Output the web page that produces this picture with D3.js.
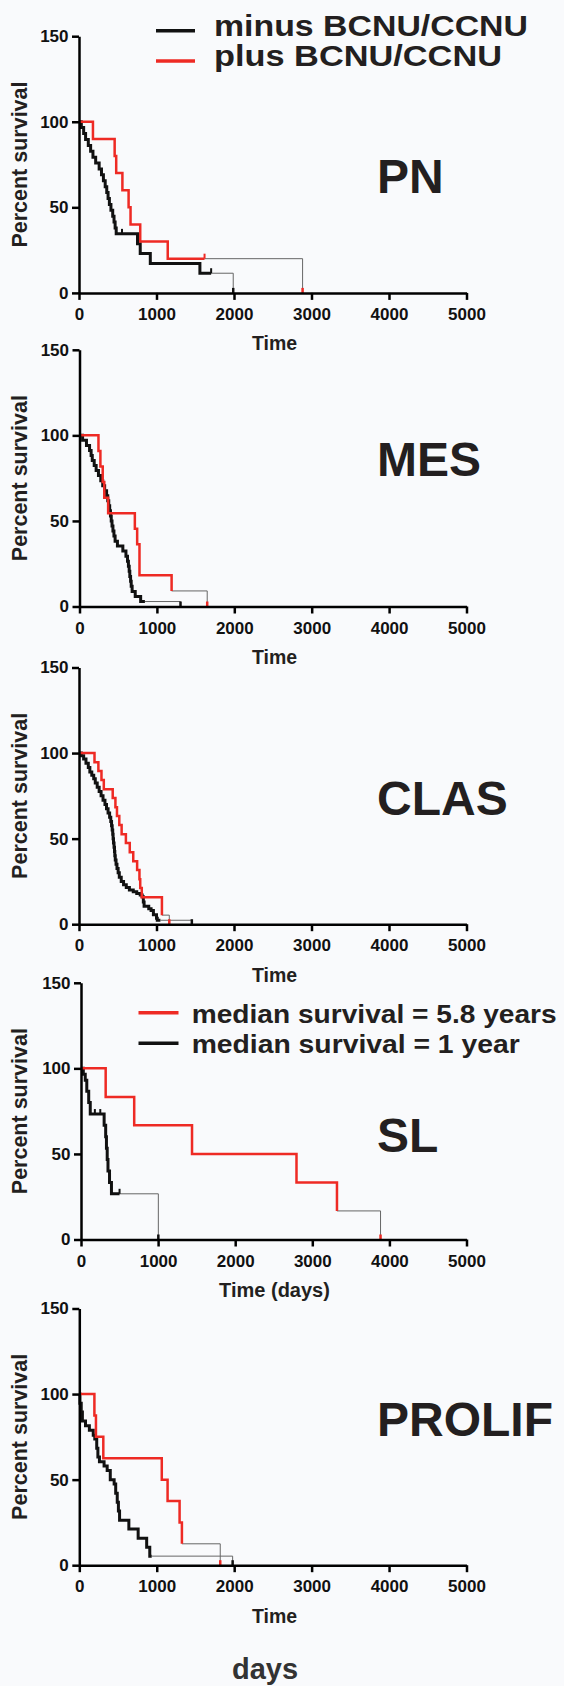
<!DOCTYPE html>
<html>
<head>
<meta charset="utf-8">
<script src="https://cdn.jsdelivr.net/npm/d3@7"></script>
<style>
  html, body { margin: 0; padding: 0; background: #f9fafc; }
  svg { display: block; }
</style>
</head>
<body>
<svg id="chart" width="564" height="1686"></svg>
<script>
// ---------------- data ----------------
const panelNames = ["PN", "MES", "CLAS", "SL", "PROLIF"];
const xTicks = [0, 1000, 2000, 3000, 4000, 5000];
const yTicks = [0, 50, 100, 150];
const xLabels = ["Time", "Time", "Time", "Time (days)", "Time"];
const legend1Labels = ["minus BCNU/CCNU", "plus BCNU/CCNU"];
const legend2Labels = ["median survival = 5.8 years", "median survival = 1 year"];
const footer = "days";

// Kaplan-Meier steps [time (days), percent survival]
const pnMinus = [[0,100],[30,96.6],[60,93.1],[85,89.7],[120,86.2],[150,82.8],[180,79.3],[215,75.9],[260,72.4],[290,69],[315,65.5],[338,62.1],[358,58.6],[375,55.2],[392,51.7],[412,48.3],[435,44.8],[452,41.4],[466,37.9],[480,34.5],[755,28.7],[790,23],[920,17.2],[1560,11.5]];
const pnMinusCensor = [[555,34.5],[1705,11.5]];
const pnMinusEnds = [1705, 1990];
const pnPlus = [[0,100],[180,90],[460,80],[480,70],[560,60],[640,50],[665,40],[790,30],[1145,20]];
const pnPlusCensor = [[1620,20]];
const pnPlusEnds = [1620, 2885];

const mesMinus = [[0,100],[40,97.1],[90,94.1],[130,91.2],[150,88.2],[165,85.3],[190,82.4],[215,79.4],[245,76.5],[275,73.5],[300,70.6],[325,67.6],[350,64.7],[365,61.8],[378,58.8],[390,55.9],[400,52.9],[410,50],[420,47.1],[432,44.1],[445,41.2],[460,38.2],[490,35.3],[560,32.4],[600,29.4],[620,26.5],[632,23.5],[642,20.6],[650,17.6],[660,14.7],[668,11.8],[680,8.8],[720,5.9],[790,2.9]];
const mesMinusCensor = [];
const mesMinusEnds = [845, 1305];
const mesPlus = [[0,100],[245,90.9],[270,81.8],[300,72.7],[320,63.6],[370,54.5],[715,45.5],[745,36.4],[775,18.2],[1190,9.1]];
const mesPlusCensor = [];
const mesPlusEnds = [1190, 1650];

const clasMinus = [[0,100],[30,98.5],[60,96.5],[90,94],[120,91.5],[140,89],[165,87],[190,85],[210,82.5],[235,80],[260,77.5],[285,75],[310,72.5],[335,70],[355,67.5],[375,65],[395,62.5],[410,60],[420,57.5],[428,55],[435,52.5],[440,50],[445,47.5],[452,45],[458,42.5],[462,40],[468,37.5],[478,35],[490,32.5],[505,30],[520,27.5],[545,25],[575,23],[610,21.5],[650,20],[700,19],[745,18],[790,17],[815,16],[830,13],[840,10.5],[900,9],[930,8],[960,5.5],[1000,3.5],[1010,2.3]];
const clasMinusCensor = [];
const clasMinusEnds = [1050, 1456];
const clasPlus = [[0,100],[200,94.7],[250,89.5],[290,84.2],[320,78.9],[435,73.7],[470,68.4],[490,63.2],[520,57.9],[550,52.6],[605,47.4],[655,42.1],[700,36.8],[750,31.6],[780,26.3],[790,21.1],[810,15.8],[1070,5.3]];
const clasPlusCensor = [];
const clasPlusEnds = [1070, 1165];

const slMinus = [[0,100],[30,96.5],[55,93],[75,86.7],[100,80],[120,73.3],[300,66.7],[320,60],[330,53.3],[340,46.7],[350,40],[370,33.3],[395,26.7]];
const slMinusCensor = [[180,73.3],[250,73.3],[500,26.7]];
const slMinusEnds = [500, 1003];
const slPlus = [[0,100],[320,83.3],[690,66.7],[1440,50],[2795,33.3],[3320,16.7]];
const slPlusCensor = [];
const slPlusEnds = [3320, 3885];

const prolifMinus = [[0,100],[8,94.7],[25,89.5],[40,84.2],[80,81.5],[130,78.9],[180,76],[200,73.7],[225,68.4],[240,63.2],[260,60.5],[320,57.9],[360,55.3],[400,50],[450,47.4],[470,42.1],[490,36.8],[505,31.6],[520,26.3],[640,21.1],[760,15.8],[870,10.5],[910,5.3]];
const prolifMinusCensor = [[210,73.7]];
const prolifMinusEnds = [935, 1980];
const prolifPlus = [[0,100],[195,87.5],[215,75],[310,62.5],[1065,50],[1140,37.5],[1295,25],[1325,12.5]];
const prolifPlusCensor = [];
const prolifPlusEnds = [1325, 1820];

// ---------------- layout ----------------
const BLACK = "#111111", RED = "#ee2a24", TEXT = "#231f20";
const FONT = "'Liberation Sans', Arial, Helvetica, sans-serif";
const panelTops = [36.2, 349.8, 667.5, 982.8, 1308.5];
const panelH = 256.7;
const panelLeft = [79, 79.5, 79, 81, 79.3];
const panelRight = 466.5;
const bigLabelBase = [193.3, 475.7, 815, 1151.7, 1435.7];

const panels = [
  {minus:[pnMinus,pnMinusCensor,pnMinusEnds], plus:[pnPlus,pnPlusCensor,pnPlusEnds]},
  {minus:[mesMinus,mesMinusCensor,mesMinusEnds], plus:[mesPlus,mesPlusCensor,mesPlusEnds]},
  {minus:[clasMinus,clasMinusCensor,clasMinusEnds], plus:[clasPlus,clasPlusCensor,clasPlusEnds]},
  {minus:[slMinus,slMinusCensor,slMinusEnds], plus:[slPlus,slPlusCensor,slPlusEnds]},
  {minus:[prolifMinus,prolifMinusCensor,prolifMinusEnds], plus:[prolifPlus,prolifPlusCensor,prolifPlusEnds]}
];

const svg = d3.select("#chart");
svg.append("rect").attr("width",564).attr("height",1686).attr("fill","#f9fafc");

panels.forEach((p, i) => {
  const top = panelTops[i], bottom = top + panelH;
  const x = d3.scaleLinear().domain([0, 5000]).range([panelLeft[i], panelRight]);
  const y = d3.scaleLinear().domain([0, 150]).range([bottom, top]);
  const g = svg.append("g");

  // curves
  const stepLine = d3.line().x(d => x(d[0])).y(d => y(d[1])).curve(d3.curveStepAfter);
  const lin = d3.line().x(d => x(d[0])).y(d => y(d[1]));
  const drawCurve = (series, color, width) => {
    const [steps, censors, ends] = series;
    const last = steps[steps.length - 1][1];
    const thick = steps.concat([[ends[0], last]]);
    // thin tail
    g.append("path").attr("d", lin([[ends[0], last],[ends[1], last],[ends[1], 0]]))
      .attr("fill","none").attr("stroke","#666").attr("stroke-width",1);
    g.append("path").attr("d", stepLine(thick))
      .attr("fill","none").attr("stroke",color).attr("stroke-width",width)
      .attr("stroke-linejoin","miter");
    censors.forEach(c => {
      g.append("line").attr("x1",x(c[0])).attr("x2",x(c[0]))
        .attr("y1",y(c[1])).attr("y2",y(c[1]) - 5)
        .attr("stroke",color).attr("stroke-width",2);
    });
    g.append("line").attr("x1",x(ends[1])).attr("x2",x(ends[1]))
      .attr("y1",y(0)).attr("y2",y(0) - 5)
      .attr("stroke",color).attr("stroke-width",2.5);
  };
  drawCurve(p.minus, BLACK, 3);
  drawCurve(p.plus, RED, 2.5);

  // axes
  const styleAxis = a => {
    a.attr("font-family", FONT).attr("font-size", 17).attr("font-weight","bold");
    a.select(".domain").attr("stroke","#000").attr("stroke-width",2.5);
    a.selectAll(".tick line").attr("stroke","#000").attr("stroke-width",2.5);
    a.selectAll(".tick text").attr("fill","#111");
  };
  const ax = g.append("g").attr("transform",`translate(0,${bottom})`)
    .call(d3.axisBottom(x).tickValues(xTicks).tickSize(7).tickSizeOuter(0).tickPadding(8).tickFormat(d3.format("d")));
  styleAxis(ax);
  const ay = g.append("g").attr("transform",`translate(${panelLeft[i]},0)`)
    .call(d3.axisLeft(y).tickValues(yTicks).tickSize(7).tickSizeOuter(0).tickPadding(3.5).tickFormat(d3.format("d")));
  styleAxis(ay);

  // axis titles
  g.append("text").attr("x", 274.5).attr("y", bottom + 57.5)
    .attr("text-anchor","middle").attr("font-family",FONT).attr("font-weight","bold")
    .attr("font-size", i === 3 ? 20 : 19.5).attr("fill",TEXT).text(xLabels[i]);
  g.append("text").attr("transform",`translate(27,${(top+bottom)/2}) rotate(-90)`)
    .attr("text-anchor","middle").attr("font-family",FONT).attr("font-weight","bold")
    .attr("font-size",21.5).attr("fill",TEXT).text("Percent survival");

  // subtype label
  g.append("text").attr("x",377).attr("y",bigLabelBase[i])
    .attr("font-family",FONT).attr("font-weight","bold").attr("font-size",48)
    .attr("fill",TEXT).text(panelNames[i]);
});

// legend 1
const leg1 = svg.append("g");
[[BLACK, 30.7, 35.7, 314], [RED, 61, 65.7, 288]].forEach((d, k) => {
  leg1.append("line").attr("x1",156).attr("x2",195).attr("y1",d[1]).attr("y2",d[1])
    .attr("stroke",d[0]).attr("stroke-width",3.5);
  leg1.append("text").attr("x",214).attr("y",d[2])
    .attr("font-family",FONT).attr("font-weight","bold").attr("font-size",29)
    .attr("textLength",d[3]).attr("lengthAdjust","spacingAndGlyphs")
    .attr("fill",TEXT).text(legend1Labels[k]);
});

// legend 2
const leg2 = svg.append("g");
[[RED, 1012.7, 1022.7, 365], [BLACK, 1043.3, 1053.3, 328]].forEach((d, k) => {
  leg2.append("line").attr("x1",138.5).attr("x2",178.5).attr("y1",d[1]).attr("y2",d[1])
    .attr("stroke",d[0]).attr("stroke-width",3.5);
  leg2.append("text").attr("x",191.7).attr("y",d[2])
    .attr("font-family",FONT).attr("font-weight","bold").attr("font-size",26)
    .attr("textLength",d[3]).attr("lengthAdjust","spacingAndGlyphs")
    .attr("fill",TEXT).text(legend2Labels[k]);
});

// footer
svg.append("text").attr("x",265).attr("y",1679).attr("text-anchor","middle")
  .attr("font-family",FONT).attr("font-weight","bold").attr("font-size",29)
  .attr("fill","#333").text(footer);
</script>
</body>
</html>
